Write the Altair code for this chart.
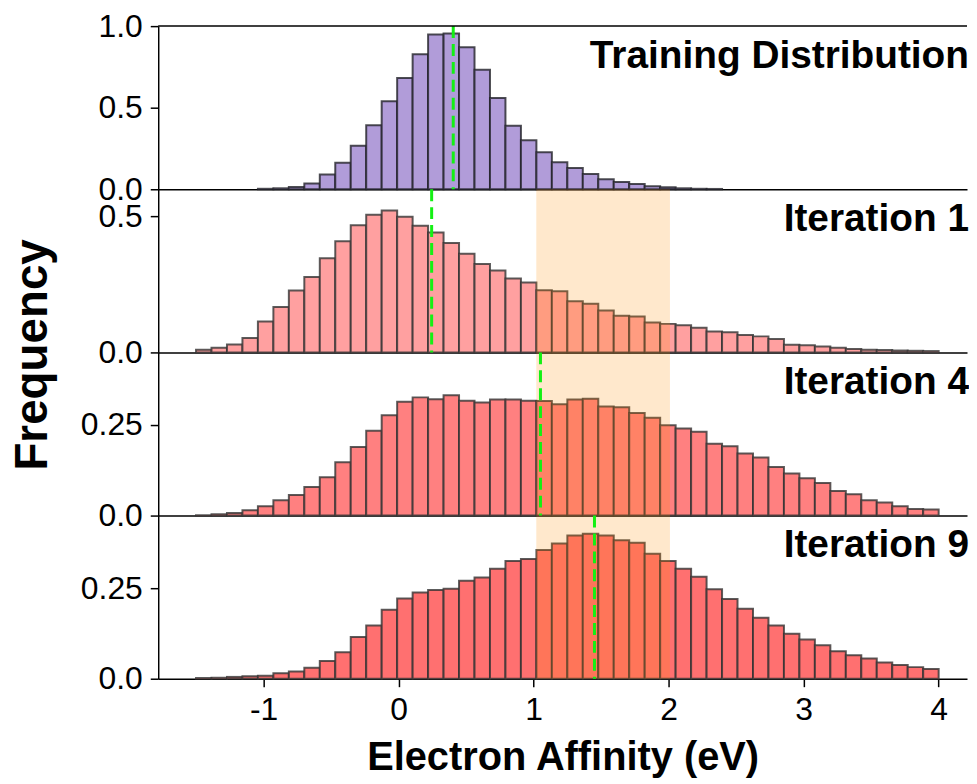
import altair as alt
import numpy as np
import pandas as pd

# ---------------- data ----------------
BIN_LO, BIN_HI, N_BINS = -1.5, 4.0, 48
panel_labels = ["Training Distribution", "Iteration 1", "Iteration 4", "Iteration 9"]

train = [0, 0, 0, 0, 0.003, 0.006, 0.014, 0.036, 0.090, 0.162,
         0.267, 0.393, 0.540, 0.682, 0.828, 0.949, 0.955, 0.870, 0.733, 0.560,
         0.389, 0.300, 0.227, 0.166, 0.130, 0.093, 0.061, 0.045, 0.032, 0.018,
         0.012, 0.006, 0.003, 0.002, 0, 0, 0, 0, 0, 0,
         0, 0, 0, 0, 0, 0, 0, 0]
iter1 = [0.010, 0.017, 0.029, 0.053, 0.114, 0.167, 0.228, 0.277, 0.346, 0.409,
         0.468, 0.506, 0.522, 0.499, 0.466, 0.441, 0.402, 0.363, 0.325, 0.301,
         0.272, 0.257, 0.229, 0.225, 0.188, 0.179, 0.154, 0.135, 0.132, 0.110,
         0.105, 0.100, 0.091, 0.077, 0.074, 0.064, 0.059, 0.049, 0.028, 0.026,
         0.022, 0.017, 0.013, 0.010, 0.009, 0.007, 0.006, 0.005]
iter4 = [0.001, 0.004, 0.007, 0.015, 0.026, 0.042, 0.057, 0.079, 0.106, 0.147,
         0.189, 0.234, 0.277, 0.314, 0.326, 0.321, 0.332, 0.317, 0.312, 0.320,
         0.320, 0.317, 0.316, 0.307, 0.320, 0.322, 0.301, 0.299, 0.283, 0.270,
         0.249, 0.240, 0.231, 0.198, 0.191, 0.171, 0.160, 0.134, 0.116, 0.103,
         0.090, 0.068, 0.059, 0.042, 0.036, 0.026, 0.018, 0.017]
iter9 = [0.002, 0.003, 0.005, 0.007, 0.008, 0.015, 0.020, 0.030, 0.049, 0.073,
         0.115, 0.147, 0.190, 0.221, 0.238, 0.245, 0.248, 0.270, 0.279, 0.303,
         0.325, 0.330, 0.355, 0.373, 0.395, 0.400, 0.395, 0.382, 0.375, 0.345,
         0.325, 0.303, 0.281, 0.247, 0.220, 0.193, 0.168, 0.147, 0.124, 0.108,
         0.092, 0.076, 0.065, 0.056, 0.045, 0.038, 0.032, 0.027]
series = [train, iter1, iter4, iter9]
means = [0.405, 0.245, 1.051, 1.451]
shade_range = [1.02, 2.01]
y_max = [1.0, 0.6, 0.45, 0.45]
y_ticks = [[0, 0.5, 1.0], [0, 0.5], [0, 0.25], [0, 0.25]]
x_ticks = [-1, 0, 1, 2, 3, 4]

# ---------------- style ----------------
fills = ["#B19CD9", "#FFA0A0", "#FF8080", "#FF7070"]
edge_colors = ["#222228", "#333333", "#333333", "#333333"]
X_DOMAIN = [-1.78, 4.21]
W, H = 813, 164
FONT = "Liberation Sans"

edges = np.linspace(BIN_LO, BIN_HI, N_BINS + 1)


def make_panel(i):
    df = pd.DataFrame({"x0": edges[:-1], "x1": edges[1:], "freq": series[i]})
    df = df[df["freq"] > 0].copy()
    df["base"] = 0.0
    xscale = alt.Scale(domain=X_DOMAIN, nice=False, zero=False)
    yscale = alt.Scale(domain=[0, y_max[i]], nice=False, zero=True)

    if i == 3:
        xaxis = alt.Axis(values=x_ticks, labelExpr="'' + datum.value",
                         title="Electron Affinity (eV)", labelFontSize=32,
                         labelPadding=8, tickSize=8, titleFontSize=40,
                         titleFontWeight="bold", titlePadding=12, labelFlush=False)
    else:
        xaxis = alt.Axis(values=x_ticks, labels=False, ticks=False, title=None)

    if i < 2:
        lab = "format(datum.value, '.1f')"
    else:
        lab = "datum.value == 0 ? '0.0' : format(datum.value, '.2f')"
    yaxis_kw = dict(values=y_ticks[i], labelExpr=lab, labelFontSize=32,
                    labelPadding=8, tickSize=8, title=None)
    if i == 2:
        yaxis_kw.update(title="Frequency", titleFontSize=46, titleFontWeight="bold",
                        titleX=-112, titleY=2, titleAngle=270, titleAlign="center",
                        titleBaseline="alphabetic")
    yaxis = alt.Axis(**yaxis_kw)

    bars = alt.Chart(df).mark_rect(
        fill=fills[i], stroke=edge_colors[i], strokeWidth=2, strokeOpacity=0.8
    ).encode(
        x=alt.X("x0:Q", scale=xscale, axis=xaxis),
        x2="x1:Q",
        y=alt.Y("freq:Q", scale=yscale, axis=yaxis),
        y2="base:Q",
    )
    layers = [bars]

    if i > 0:
        shade = alt.Chart(pd.DataFrame({"a": [shade_range[0]], "b": [shade_range[1]]})).mark_rect(
            fill="#FF8C00", opacity=0.2
        ).encode(
            x=alt.X("a:Q", scale=xscale, axis=xaxis), x2="b:Q",
            y=alt.value(0), y2=alt.value(H),
        )
        layers.append(shade)

    mean_line = alt.Chart(pd.DataFrame({"m": [means[i]]})).mark_rule(
        color="#14F014", strokeWidth=3, strokeDash=[12, 6]
    ).encode(x=alt.X("m:Q", scale=xscale, axis=xaxis))
    layers.append(mean_line)

    label = alt.Chart(pd.DataFrame({"t": [panel_labels[i]]})).mark_text(
        align="right", baseline="middle", fontSize=39, fontWeight="bold", font=FONT, color="black"
    ).encode(x=alt.value(W + 2), y=alt.value(30), text="t:N")
    layers.append(label)

    if i == 0:
        top = alt.Chart(pd.DataFrame({"z": [0]})).mark_rule(color="black", strokeWidth=1.5).encode(
            x=alt.value(0), x2=alt.value(W), y=alt.value(0)
        )
        layers.append(top)

    return alt.layer(*layers).properties(width=W, height=H)


chart = alt.vconcat(*[make_panel(i) for i in range(4)], spacing=0, bounds="flush").properties(
    padding={"left": 2, "top": 0, "right": 0, "bottom": 80}
).configure_view(stroke=None).configure_axis(
    grid=False, domainColor="black", domainWidth=1.5, tickColor="black", tickWidth=1.5,
    labelColor="black", titleColor="black", labelFont=FONT, titleFont=FONT
).configure_text(font=FONT)

chart.save("out.html", embed_options={"renderer": "svg", "actions": False})
